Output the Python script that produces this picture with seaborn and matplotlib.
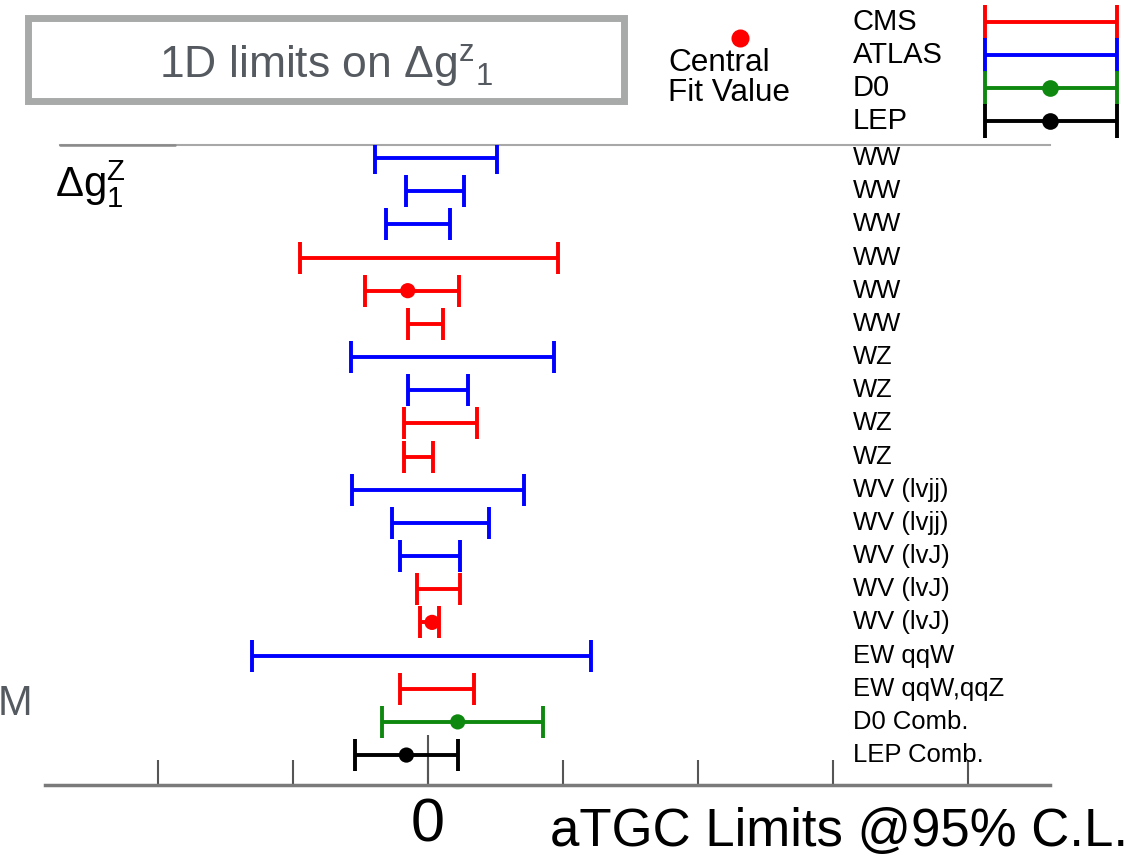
import numpy as np
import pandas as pd
import matplotlib
matplotlib.use("Agg")
import matplotlib.pyplot as plt
import matplotlib.transforms as mtransforms
from matplotlib import font_manager as fm
from matplotlib.lines import Line2D
from matplotlib.patches import Rectangle
import seaborn as sns

# ---------------- data ----------------
process_labels = ["WW", "WW", "WW", "WW", "WW", "WW",
                  "WZ", "WZ", "WZ", "WZ",
                  "WV (lvjj)", "WV (lvjj)", "WV (lvJ)", "WV (lvJ)", "WV (lvJ)",
                  "EW qqW", "EW qqW,qqZ", "D0 Comb.", "LEP Comb."]
experiments = ["ATLAS", "ATLAS", "ATLAS", "CMS", "CMS", "CMS",
               "ATLAS", "ATLAS", "CMS", "CMS",
               "ATLAS", "ATLAS", "ATLAS", "CMS", "CMS",
               "ATLAS", "CMS", "D0", "LEP"]
lower = [-0.039, -0.016, -0.031, -0.095, -0.047, -0.015,
         -0.057, -0.015, -0.018, -0.018,
         -0.056, -0.027, -0.021, -0.008, -0.006,
         -0.130, -0.021, -0.034, -0.054]
upper = [0.051, 0.027, 0.016, 0.096, 0.023, 0.011,
         0.093, 0.030, 0.036, 0.004,
         0.071, 0.045, 0.024, 0.024, 0.008,
         0.121, 0.034, 0.085, 0.022]
central = [np.nan, np.nan, np.nan, np.nan, -0.015, np.nan,
           np.nan, np.nan, np.nan, np.nan,
           np.nan, np.nan, np.nan, np.nan, 0.003,
           np.nan, np.nan, 0.022, -0.016]
legend_experiments = ["CMS", "ATLAS", "D0", "LEP"]
legend_has_central = [False, False, True, True]
tick_values = [-0.2, -0.1, 0.0, 0.1, 0.2, 0.3, 0.4]
tick_labels = ["", "", "0", "", "", "", ""]
colors = {"CMS": "#ff0000", "ATLAS": "#0000ff", "D0": "#0f880f", "LEP": "#000000"}

df = pd.DataFrame({"label": process_labels, "experiment": experiments,
                   "lo": lower, "hi": upper, "central": central})
df["row"] = np.arange(len(df))

# ---------------- style ----------------
sns.set_theme(style="white")
names = {f.name for f in fm.fontManager.ttflist}
has_narrow = "Liberation Sans Narrow" in names
NARROW = ["Liberation Sans Narrow", "Liberation Sans", "DejaVu Sans"] if has_narrow else ["Liberation Sans", "DejaVu Sans"]
k = 1.0 if has_narrow else 0.84
plt.rcParams["font.family"] = ["Liberation Sans", "DejaVu Sans"]

W, H = 1132, 860
fig = plt.figure(figsize=(W / 100, H / 100), dpi=100)


def fx(px):
    return px / W


def fy(py):
    return 1 - py / H


# main axes: x from px 45..1050, y from px 145..785
ax = fig.add_axes([fx(45), fy(785), (1050 - 45) / W, (785 - 145) / H])

LW = 2.8
CAP = 11.2
for exp, sub in df.groupby("experiment"):
    mid = (sub["lo"] + sub["hi"]) / 2
    ax.errorbar(x=mid, y=sub["row"], xerr=[mid - sub["lo"], sub["hi"] - mid],
                fmt="none", ecolor=colors[exp], elinewidth=LW, capsize=CAP,
                capthick=LW, zorder=3)

sns.scatterplot(data=df.dropna(subset=["central"]), x="central", y="row",
                hue="experiment", palette=colors, s=120, edgecolor="none",
                legend=False, ax=ax, zorder=5)

ax.set_xlim(-383 / 1350, 622 / 1350)
ax.set_ylim((785 - 158) / 33.17, -13 / 33.17)
ax.set_xlabel("")
ax.set_ylabel("")
ax.set_yticks([])
ax.xaxis.remove_overlapping_locs = False
ax.set_xticks(tick_values)
ax.set_xticklabels(tick_labels)
ax.set_xticks([0.0], minor=True)
ax.tick_params(axis="x", which="major", direction="in", length=18, width=1.5,
               color="#555555", pad=9, labelsize=44, bottom=True)
ax.tick_params(axis="x", which="minor", direction="in", length=36, width=1.5,
               color="#555555", bottom=True)
for t in ax.get_xticklabels():
    t.set_family(NARROW)
    t.set_color("black")

for side in ["left", "right"]:
    ax.spines[side].set_visible(False)
ax.spines["bottom"].set_color("#7a7a7a")
ax.spines["bottom"].set_linewidth(2.5)
ax.spines["top"].set_color("#a8a8a8")
ax.spines["top"].set_linewidth(1.5)
ax.spines["top"].set_bounds((60 - 428) / 1350, 622 / 1350)
ax.patch.set_alpha(0)

# darker segment on the left of the top line
fig.add_artist(Line2D([fx(60), fx(175)], [fy(145), fy(145)], color="#8a8a8a", lw=1.8))

# row labels
trans = mtransforms.blended_transform_factory(ax.transAxes, ax.transData)
for _, r in df.iterrows():
    ax.text((853 - 45) / 1005, r["row"], r["label"], transform=trans,
            ha="left", va="center", fontsize=22 * k, family=NARROW, color="black")

# Delta g label
fig.text(fx(55), fy(184), r"$\mathregular{\Delta g_1^Z}$", ha="left", va="center",
         fontsize=36 * k, family=NARROW, color="black")

# cut-off "M"
fig.text(fx(-2), fy(704), "M", ha="left", va="center", fontsize=30,
         color="#555a60")

# x-axis caption
fig.text(fx(550), fy(832), "aTGC Limits @95% C.L.", ha="left", va="center",
         fontsize=38, color="black")

# title box
fig.add_artist(Rectangle((fx(28), fy(101)), (624 - 28) / W, (101 - 18) / H,
                         fill=False, ec="#a7aaa9", lw=5, transform=fig.transFigure))
fig.text(fx(326), fy(66), "1D limits on Δg$^{\\mathregular{z}}$$_{\\mathregular{1}}$",
         ha="center", va="center", fontsize=32, color="#555a60")

# "Central Fit Value" legend entry
fig.add_artist(Line2D([fx(740)], [fy(38)], marker="o", ms=13, color="#ff0000",
                      mec="none", lw=0))
fig.text(fx(668), fy(63), "Central", ha="left", va="center", fontsize=27 * k,
         family=NARROW, color="black")
fig.text(fx(668), fy(93), "Fit Value", ha="left", va="center", fontsize=27 * k,
         family=NARROW, color="black")

# experiment legend
lax = fig.add_axes([fx(985), fy(137), (1117 - 985) / W, (137 - 5) / H])
lax.set_xlim(0, 1)
lax.set_ylim(3.5, -0.5)
lax.axis("off")
for j, (exp, has_c) in enumerate(zip(legend_experiments, legend_has_central)):
    lax.errorbar(x=[0.5], y=[j], xerr=[[0.5], [0.5]], fmt="none",
                 ecolor=colors[exp], elinewidth=LW, capsize=11.9, capthick=LW,
                 clip_on=False)
    if has_c:
        lax.plot([0.49], [j], marker="o", ms=12, color=colors[exp], mec="none",
                 clip_on=False)
    fig.text(fx(853), fy(22 + 33 * j), exp, ha="left", va="center",
             fontsize=25 * k, family=NARROW, color="black")

fig.savefig("out.png", dpi=100)
